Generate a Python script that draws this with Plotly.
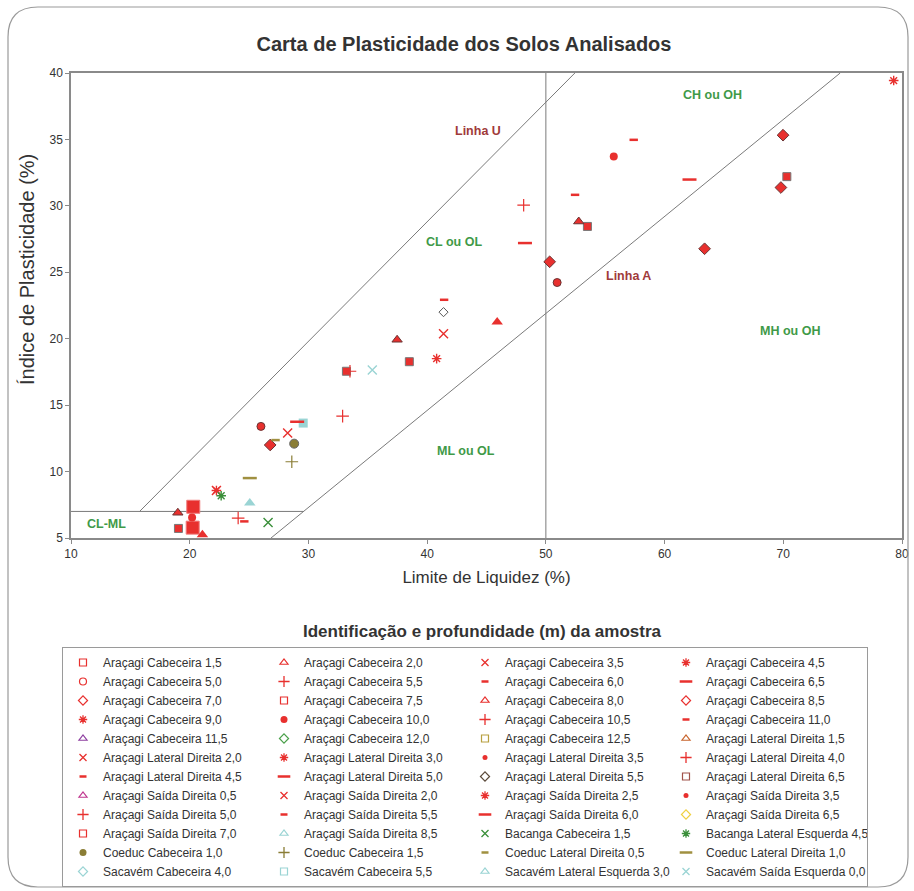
import plotly.graph_objects as go

FONT = "Liberation Sans, Arial, sans-serif"
RED = "#e8302e"
DARK_EDGE = "#6a3434"
OLIVE = "#8a7d35"
GREEN = "#3a8f3a"
CYAN = "#9ad4d4"

# ---------------- observed points (Limite de Liquidez %, Índice de Plasticidade %) ----------------
red_sq_small_ll = [19.05, 33.2, 38.5, 53.5, 70.3]
red_sq_small_pi = [5.72, 17.55, 18.27, 28.45, 32.2]
red_sq_big_ll = [20.3, 20.25]
red_sq_big_pi = [7.35, 5.78]
red_tri_ll = [21.07, 45.9]
red_tri_pi = [5.25, 21.25]
dark_tri_ll = [19.0, 37.47, 52.77]
dark_tri_pi = [6.9, 19.92, 28.82]
cyan_tri_ll = [25.06]
cyan_tri_pi = [7.63]
red_circ_ll = [20.2, 55.72]
red_circ_pi = [6.55, 33.71]
dark_circ_ll = [26.0, 50.95]
dark_circ_pi = [13.4, 24.23]
olive_circ_ll = [28.8]
olive_circ_pi = [12.1]
red_diam_ll = [26.78, 50.32, 69.98, 69.8, 63.37]
red_diam_pi = [12.0, 25.79, 35.32, 31.38, 26.77]
open_diam_ll = [41.38]
open_diam_pi = [22.0]
red_x_ll = [22.25, 28.25, 41.38]
red_x_pi = [8.58, 12.9, 20.37]
red_star_ll = [22.25, 40.8, 79.3]
red_star_pi = [8.58, 18.5, 39.43]
green_x_ll = [26.6]
green_x_pi = [6.17]
green_star_ll = [22.65]
green_star_pi = [8.18]
cyan_x_ll = [35.38]
cyan_x_pi = [17.64]
red_plus_ll = [24.08, 32.88, 48.13, 33.5]
red_plus_pi = [6.5, 14.17, 30.05, 17.55]
olive_plus_ll = [28.6]
olive_plus_pi = [10.74]
red_sdash_ll = [24.6, 41.43, 57.4, 52.46]
red_sdash_pi = [6.25, 22.93, 34.97, 30.83]
olive_sdash_ll = [27.23]
olive_sdash_pi = [12.37]
red_ldash_ll = [29.05, 48.24, 62.1]
red_ldash_pi = [13.75, 27.2, 31.98]
olive_ldash_ll = [25.06]
olive_ldash_pi = [9.51]
cyan_sq_ll = [29.56]
cyan_sq_pi = [13.65]

# ---------------- legend entries ----------------
legend_names = [
    "Araçagi Cabeceira 1,5", "Araçagi Cabeceira 2,0", "Araçagi Cabeceira 3,5", "Araçagi Cabeceira 4,5",
    "Araçagi Cabeceira 5,0", "Araçagi Cabeceira 5,5", "Araçagi Cabeceira 6,0", "Araçagi Cabeceira 6,5",
    "Araçagi Cabeceira 7,0", "Araçagi Cabeceira 7,5", "Araçagi Cabeceira 8,0", "Araçagi Cabeceira 8,5",
    "Araçagi Cabeceira 9,0", "Araçagi Cabeceira 10,0", "Araçagi Cabeceira 10,5", "Araçagi Cabeceira 11,0",
    "Araçagi Cabeceira 11,5", "Araçagi Cabeceira 12,0", "Araçagi Cabeceira 12,5", "Araçagi Lateral Direita 1,5",
    "Araçagi Lateral Direita 2,0", "Araçagi Lateral Direita 3,0", "Araçagi Lateral Direita 3,5", "Araçagi Lateral Direita 4,0",
    "Araçagi Lateral Direita 4,5", "Araçagi Lateral Direita 5,0", "Araçagi Lateral Direita 5,5", "Araçagi Lateral Direita 6,5",
    "Araçagi Saída Direita 0,5", "Araçagi Saída Direita 2,0", "Araçagi Saída Direita 2,5", "Araçagi Saída Direita 3,5",
    "Araçagi Saída Direita 5,0", "Araçagi Saída Direita 5,5", "Araçagi Saída Direita 6,0", "Araçagi Saída Direita 6,5",
    "Araçagi Saída Direita 7,0", "Araçagi Saída Direita 8,5", "Bacanga Cabeceira 1,5", "Bacanga Lateral Esquerda 4,5",
    "Coeduc Cabeceira 1,0", "Coeduc Cabeceira 1,5", "Coeduc Lateral Direita 0,5", "Coeduc Lateral Direita 1,0",
    "Sacavém Cabeceira 4,0", "Sacavém Cabeceira 5,5", "Sacavém Lateral Esquerda 3,0", "Sacavém Saída Esquerda 0,0",
]
# marker kinds: sq, tri, x, star, circ-o, circ, sdot, plus, sdash, ldash, diam
legend_kinds = [
    "sq", "tri", "x", "star",
    "circ-o", "plus", "sdash", "ldash",
    "diam", "sq", "tri", "diam",
    "star", "circ", "plus", "sdash",
    "tri", "diam", "sq", "tri",
    "x", "star", "sdot", "plus",
    "sdash", "ldash", "diam", "sq",
    "tri", "x", "star", "sdot",
    "plus", "sdash", "ldash", "diam",
    "sq", "tri", "x", "star",
    "circ", "plus", "sdash", "ldash",
    "diam", "sq", "tri", "x",
]
legend_colors = [
    RED, RED, RED, RED,
    RED, RED, RED, RED,
    RED, RED, RED, RED,
    RED, RED, RED, RED,
    "#8e3fa0", "#4aa04a", "#b8a040", "#c8642c",
    RED, RED, RED, RED,
    RED, RED, "#5b4a3a", "#a0524a",
    "#c0368f", RED, RED, RED,
    RED, RED, RED, "#f0d040",
    RED, CYAN, GREEN, GREEN,
    OLIVE, OLIVE, "#a09040", "#a09040",
    CYAN, CYAN, CYAN, CYAN,
]

KIND_STYLE = {
    "sq": ("square-open", 7, 1.2),
    "tri": ("triangle-up-open", 7, 1.2),
    "x": ("x-thin-open", 7, 1.3),
    "star": ("asterisk-open", 7, 1.3),
    "circ-o": ("circle-open", 7, 1.2),
    "circ": ("circle", 7, 0),
    "sdot": ("circle", 5, 0),
    "plus": ("cross-thin-open", 8, 1.3),
    "sdash": ("line-ew-open", 5, 2.5),
    "ldash": ("line-ew-open", 9, 2.5),
    "diam": ("diamond-open", 7, 1.2),
}

fig = go.Figure()

# ---------------- classification lines ----------------
LL_MIN, LL_MAX, PI_MIN, PI_MAX = 10, 80, 5, 40
U_SLOPE, U_OFFSET = 0.9, 8      # Linha U: IP = 0.9 (LL - 8)
A_SLOPE, A_OFFSET = 0.73, 20    # Linha A: IP = 0.73 (LL - 20)
CLML_PI = 7
LL_SPLIT = 50

u_ll = [U_OFFSET + CLML_PI / U_SLOPE, U_OFFSET + PI_MAX / U_SLOPE]
u_pi = [CLML_PI, PI_MAX]
a_ll = [A_OFFSET + PI_MIN / A_SLOPE, A_OFFSET + PI_MAX / A_SLOPE]
a_pi = [PI_MIN, PI_MAX]
clml_ll = [LL_MIN, A_OFFSET + CLML_PI / A_SLOPE]
clml_pi = [CLML_PI, CLML_PI]
split_ll = [LL_SPLIT, LL_SPLIT]
split_pi = [PI_MIN, PI_MAX]

for lx, ly in [(u_ll, u_pi), (a_ll, a_pi), (clml_ll, clml_pi), (split_ll, split_pi)]:
    fig.add_trace(go.Scatter(x=lx, y=ly, mode="lines", line=dict(color="#7a7a7a", width=1),
                             showlegend=False, hoverinfo="skip"))

# ---------------- plotted samples ----------------
groups = [
    (red_sq_big_ll, red_sq_big_pi, "square", 13, RED, "#f07a7a", 1),
    (red_sq_small_ll, red_sq_small_pi, "square", 8, RED, "#777777", 1),
    (red_tri_ll, red_tri_pi, "triangle-up", 10, RED, RED, 0),
    (dark_tri_ll, dark_tri_pi, "triangle-up", 9, RED, DARK_EDGE, 1),
    (cyan_tri_ll, cyan_tri_pi, "triangle-up", 10, CYAN, CYAN, 0),
    (red_circ_ll, red_circ_pi, "circle", 8, RED, RED, 0),
    (dark_circ_ll, dark_circ_pi, "circle", 8, RED, DARK_EDGE, 1),
    (olive_circ_ll, olive_circ_pi, "circle", 9, OLIVE, "#666666", 1),
    (red_diam_ll, red_diam_pi, "diamond", 9, RED, DARK_EDGE, 1),
    (open_diam_ll, open_diam_pi, "diamond-open", 7, "#555555", "#555555", 1),
    (red_x_ll, red_x_pi, "x-thin-open", 9, RED, RED, 1.4),
    (red_star_ll, red_star_pi, "asterisk-open", 8, RED, RED, 1.4),
    (green_x_ll, green_x_pi, "x-thin-open", 9, GREEN, GREEN, 1.4),
    (green_star_ll, green_star_pi, "asterisk-open", 8, GREEN, GREEN, 1.4),
    (cyan_x_ll, cyan_x_pi, "x-thin-open", 9, CYAN, CYAN, 1.4),
    (red_plus_ll, red_plus_pi, "cross-thin-open", 9, RED, RED, 1.2),
    (olive_plus_ll, olive_plus_pi, "cross-thin-open", 9, OLIVE, OLIVE, 1.2),
    (cyan_sq_ll, cyan_sq_pi, "square", 9, CYAN, CYAN, 0),
    (red_sdash_ll, red_sdash_pi, "line-ew-open", 6, RED, RED, 2.5),
    (olive_sdash_ll, olive_sdash_pi, "line-ew-open", 6, "#a09040", "#a09040", 2.5),
    (red_ldash_ll, red_ldash_pi, "line-ew-open", 10, RED, RED, 2.5),
    (olive_ldash_ll, olive_ldash_pi, "line-ew-open", 10, "#a09040", "#a09040", 2.5),
]
for gx, gy, sym, size, col, lcol, lw in groups:
    fig.add_trace(go.Scatter(
        x=gx, y=gy, mode="markers", showlegend=False, cliponaxis=False,
        marker=dict(symbol=sym, size=size, color=col, line=dict(color=lcol, width=lw)),
    ))

# ---------------- legend-only entries ----------------
for name, kind, col in zip(legend_names, legend_kinds, legend_colors):
    sym, size, lw = KIND_STYLE[kind]
    fig.add_trace(go.Scatter(
        x=[None], y=[None], mode="markers", name=name,
        marker=dict(symbol=sym, size=size, color=col, line=dict(color=col, width=lw)),
    ))

# ---------------- zone labels ----------------
zone_labels = ["Linha U", "CL ou OL", "Linha A", "CH ou OH", "MH ou OH", "ML ou OL", "CL-ML"]
zone_ll = [44.3, 42.3, 57.0, 64.05, 70.55, 43.3, 13.0]
zone_pi = [35.65, 27.3, 24.74, 38.36, 20.6, 11.57, 6.08]
zone_colors = ["#a03a3a", "#3f9a48", "#a03a3a", "#3f9a48", "#3f9a48", "#3f9a48", "#3f9a48"]
for t, lx, ly, c in zip(zone_labels, zone_ll, zone_pi, zone_colors):
    fig.add_annotation(x=lx, y=ly, text="<b>%s</b>" % t, showarrow=False,
                       xanchor="center", yanchor="middle",
                       font=dict(family=FONT, size=12.5, color=c))

# y-axis title (placed as in the original)
fig.add_annotation(xref="paper", yref="paper", x=(27 - 71) / 831, y=(538 - 270) / 465,
                   xanchor="center", yanchor="middle",
                   text="Índice de Plasticidade (%)", textangle=-90, showarrow=False,
                   font=dict(family=FONT, size=20, color="#333333"))
# legend title
fig.add_annotation(xref="paper", yref="paper", x=(482 - 71) / 831, y=(538 - 631) / 465,
                   xanchor="center", yanchor="middle",
                   text="<b>Identificação e profundidade (m) da amostra</b>", showarrow=False,
                   font=dict(family=FONT, size=17, color="#333333"))

# ---------------- outer rounded frame ----------------
L, R = (8 - 71) / 831, (908 - 71) / 831
T, B = (538 - 7) / 465, (538 - 887) / 465
rx, ry = 30 / 831, 30 / 465
path = (f"M {L+rx} {T} L {R-rx} {T} Q {R} {T} {R} {T-ry} L {R} {B+ry} Q {R} {B} {R-rx} {B} "
        f"L {L+rx} {B} Q {L} {B} {L} {B+ry} L {L} {T-ry} Q {L} {T} {L+rx} {T} Z")
fig.add_shape(type="path", xref="paper", yref="paper", path=path,
              line=dict(color="#9a9a9a", width=1.2))

axis_common = dict(showline=True, linecolor="#8a8a8a", linewidth=1.5, mirror=True,
                   ticks="outside", ticklen=4, tickcolor="#8a8a8a", showgrid=False,
                   zeroline=False, tickfont=dict(family=FONT, size=12, color="#333333"))

fig.update_layout(
    width=914, height=891,
    margin=dict(l=71, r=12, t=73, b=353, autoexpand=False),
    paper_bgcolor="white", plot_bgcolor="white",
    font=dict(family=FONT, color="#333333"),
    title=dict(text="<b>Carta de Plasticidade dos Solos Analisados</b>",
               x=464 / 914, xanchor="center", y=1 - 44 / 891, yanchor="middle",
               font=dict(family=FONT, size=20, color="#333333")),
    xaxis=dict(range=[LL_MIN, LL_MAX], tick0=10, dtick=10,
               title=dict(text="Limite de Liquidez (%)", standoff=11,
                          font=dict(family=FONT, size=17, color="#333333")),
               **axis_common),
    yaxis=dict(range=[PI_MIN, PI_MAX], tick0=5, dtick=5, **axis_common),
    legend=dict(orientation="h", x=-9 / 831, xanchor="left", y=(538 - 647) / 465, yanchor="top",
                entrywidth=156, entrywidthmode="pixels",
                bgcolor="white", bordercolor="#9a9a9a", borderwidth=1,
                font=dict(family=FONT, size=12, color="#333333"),
                traceorder="normal"),
    showlegend=True,
)

fig.write_html("out.html")
